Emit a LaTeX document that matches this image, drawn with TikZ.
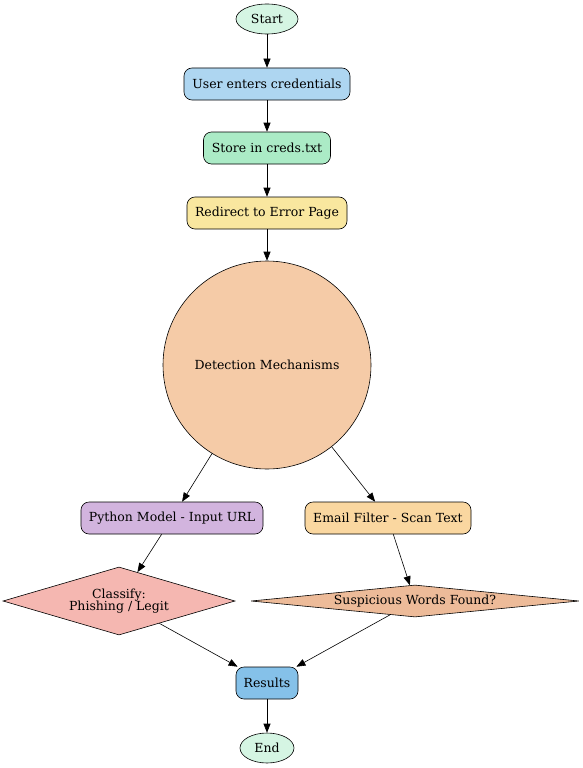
\documentclass[tikz,border=0pt]{standalone}
\usepackage{fontspec}
\setmainfont{DejaVu Serif}
\usepackage{tikz}
\usetikzlibrary{%
  positioning
 ,arrows.meta
 ,shapes.geometric
}
\definecolor{cstart}{HTML}{D5F5E3}
\definecolor{cuser}{HTML}{AED6F1}
\definecolor{cstore}{HTML}{ABEBC6}
\definecolor{credir}{HTML}{F9E79F}
\definecolor{cdet}{HTML}{F5CBA7}
\definecolor{cpy}{HTML}{D2B4DE}
\definecolor{cmail}{HTML}{FAD7A0}
\definecolor{cclass}{HTML}{F5B7B1}
\definecolor{csusp}{HTML}{EDBB99}
\definecolor{cres}{HTML}{85C1E9}
\tikzstyle{flow}=[on grid,>={Triangle[length=9pt,width=7pt]},line width=0.6pt,font=\fontsize{12.5pt}{12.5pt}\selectfont]
\tikzstyle{term}=[ellipse,draw=black,fill=cstart,minimum width=62pt,minimum height=30pt,inner sep=0pt]
\tikzstyle{act}=[rectangle,rounded corners=8pt,draw=black,minimum height=32pt,inner sep=0pt]
\tikzstyle{dec}=[diamond,draw=black,inner sep=0pt,align=center]

\begin{document}
\begin{tikzpicture}[flow]
  \useasboundingbox (0,0) rectangle (583pt,-768pt);
  \node[term]  (start) at (267pt,-19pt)        {Start};
  \node[act,fill=cuser,minimum width=166pt]  (user)  [below=65pt of start] {User enters credentials};
  \node[act,fill=cstore,minimum width=127pt] (store) [below=64pt of user]  {Store in creds.txt};
  \node[act,fill=credir,minimum width=160pt] (redir) [below=65pt of store] {Redirect to Error Page};
  \node[circle,draw=black,fill=cdet,minimum size=208pt,inner sep=0pt] (det) [below=152pt of redir] {Detection Mechanisms};
% 
  \node[act,fill=cpy,minimum width=182pt]   (py)    [below left=153pt and 95pt of det]   {Python Model - Input URL};
  \node[act,fill=cmail,minimum width=166pt] (mail)  [below right=153pt and 121pt of det] {Email Filter - Scan Text};
  \node[dec,fill=cclass,minimum width=232pt,minimum height=68pt,aspect=3.4] (class) [below left=83pt and 53pt of py]  {Classify:\\Phishing / Legit};
  \node[dec,fill=csusp,minimum width=328pt,minimum height=32pt,aspect=10]  (susp)  [below right=83pt and 27pt of mail] {Suspicious Words Found?};
% 
  \node[act,fill=cres,minimum width=62pt] (res) at (267pt,-683pt) {Results};
  \node[term,minimum width=54pt]          (end) [below=65pt of res] {End};
% 
  \path[->]
  (start) edge (user)
  (user)  edge (store)
  (store) edge (redir)
  (redir) edge (det)
  (det)   edge (py)
  (det)   edge (mail)
  (py)    edge (class)
  (mail)  edge (susp)
  (class) edge (res)
  (susp)  edge (res)
  (res)   edge (end);
\end{tikzpicture}
\end{document}
